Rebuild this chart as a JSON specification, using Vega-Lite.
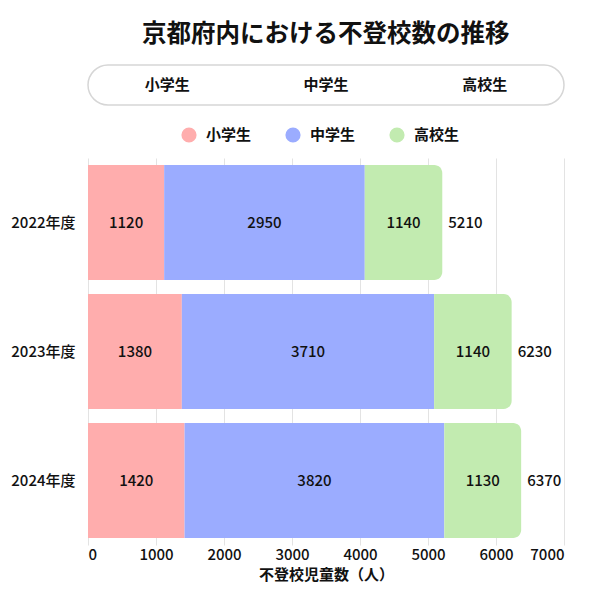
{
  "$schema": "https://vega.github.io/schema/vega-lite/v6.json",
  "background": "white",
  "padding": {"left": 10, "right": 10, "top": 21, "bottom": 10},
  "title": {"text": "京都府内における不登校数の推移", "fontSize": 24.5, "fontWeight": "bold", "font": "Noto Sans CJK JP", "anchor": "middle", "offset": 17, "dx": 38, "color": "#111111"},
  "config": {"font": "Liberation Sans Narrow, Noto Sans CJK JP", "view": {"stroke": null}},
  "datasets": {
    "tabs": [{"label": "小学生"}, {"label": "中学生"}, {"label": "高校生"}],
    "counts": [
      {"year": "2022年度", "category": "小学生", "idx": 1, "value": 1120},
      {"year": "2022年度", "category": "中学生", "idx": 2, "value": 2950},
      {"year": "2022年度", "category": "高校生", "idx": 3, "value": 1140},
      {"year": "2023年度", "category": "小学生", "idx": 1, "value": 1380},
      {"year": "2023年度", "category": "中学生", "idx": 2, "value": 3710},
      {"year": "2023年度", "category": "高校生", "idx": 3, "value": 1140},
      {"year": "2024年度", "category": "小学生", "idx": 1, "value": 1420},
      {"year": "2024年度", "category": "中学生", "idx": 2, "value": 3820},
      {"year": "2024年度", "category": "高校生", "idx": 3, "value": 1130}
    ]
  },
  "spacing": 21,
  "vconcat": [
    {
      "width": 476,
      "height": 40,
      "view": {"fill": "white", "stroke": "#d6d6d6", "strokeWidth": 1.5, "cornerRadius": 20},
      "data": {"name": "tabs"},
      "mark": {"type": "text", "fontSize": 15, "fontWeight": "bold", "font": "Noto Sans CJK JP", "color": "#111111"},
      "encoding": {
        "x": {"field": "label", "type": "nominal", "sort": null, "axis": null},
        "text": {"field": "label"}
      }
    },
    {
      "width": 476,
      "height": 387,
      "data": {"name": "counts"},
      "transform": [
        {"stack": "value", "groupby": ["year"], "sort": [{"field": "idx", "order": "ascending"}], "as": ["x0", "x1"]}
      ],
      "encoding": {
        "y": {
          "field": "year", "type": "nominal", "sort": null,
          "scale": {"paddingInner": 0.11, "paddingOuter": 0.055},
          "axis": {"title": null, "ticks": false, "domain": false, "labelFontSize": 15, "labelFontWeight": 500, "labelPadding": 13, "labelColor": "#111111"}
        },
        "color": {
          "field": "category", "type": "nominal",
          "scale": {"domain": ["小学生", "中学生", "高校生"], "range": ["#ffadad", "#9bacff", "#c2ebb0"]},
          "legend": {
            "orient": "none", "legendX": 93, "legendY": -31, "direction": "horizontal", "title": null,
            "symbolType": "circle", "symbolSize": 230, "symbolStrokeWidth": 0,
            "labelFontSize": 15, "labelFontWeight": "bold", "labelFont": "Noto Sans CJK JP", "labelColor": "#111111",
            "labelOffset": 9, "columnPadding": 33
          }
        }
      },
      "layer": [
        {
          "transform": [{"filter": "datum.idx < 3"}],
          "mark": {"type": "bar"},
          "encoding": {
            "x": {
              "field": "x0", "type": "quantitative",
              "scale": {"domain": [0, 7000]},
              "axis": {
                "values": [0, 1000, 2000, 3000, 4000, 5000, 6000, 7000], "format": "d",
                "title": "不登校児童数（人）", "titleFontSize": 15, "titleFontWeight": "bold", "titleFont": "Noto Sans CJK JP", "titleColor": "#111111", "titlePadding": 5,
                "labelFontSize": 15, "labelFontWeight": 500, "labelColor": "#111111", "labelPadding": 2,
                "domain": false, "ticks": false, "gridColor": "#e3e3e3"
              }
            },
            "x2": {"field": "x1"}
          }
        },
        {
          "transform": [{"filter": "datum.idx === 3"}],
          "mark": {"type": "bar", "cornerRadiusTopRight": 8, "cornerRadiusBottomRight": 8},
          "encoding": {
            "x": {"field": "x0", "type": "quantitative"},
            "x2": {"field": "x1"}
          }
        },
        {
          "mark": {"type": "text", "fontSize": 15, "fontWeight": 500, "color": "#111111"},
          "encoding": {
            "x": {"field": "value", "type": "quantitative", "stack": "zero", "bandPosition": 0.5},
            "color": {"value": "#111111"},
            "detail": {"field": "category"},
            "order": {"field": "idx", "type": "quantitative"},
            "text": {"field": "value", "type": "quantitative"}
          }
        },
        {
          "transform": [{"aggregate": [{"op": "sum", "field": "value", "as": "total"}], "groupby": ["year"]}],
          "mark": {"type": "text", "fontSize": 15, "fontWeight": 500, "color": "#111111", "align": "left", "dx": 6},
          "encoding": {
            "x": {"field": "total", "type": "quantitative"},
            "color": {"value": "#111111"},
            "text": {"field": "total", "type": "quantitative"}
          }
        }
      ]
    }
  ],
  "resolve": {"legend": {"color": "independent"}}
}
